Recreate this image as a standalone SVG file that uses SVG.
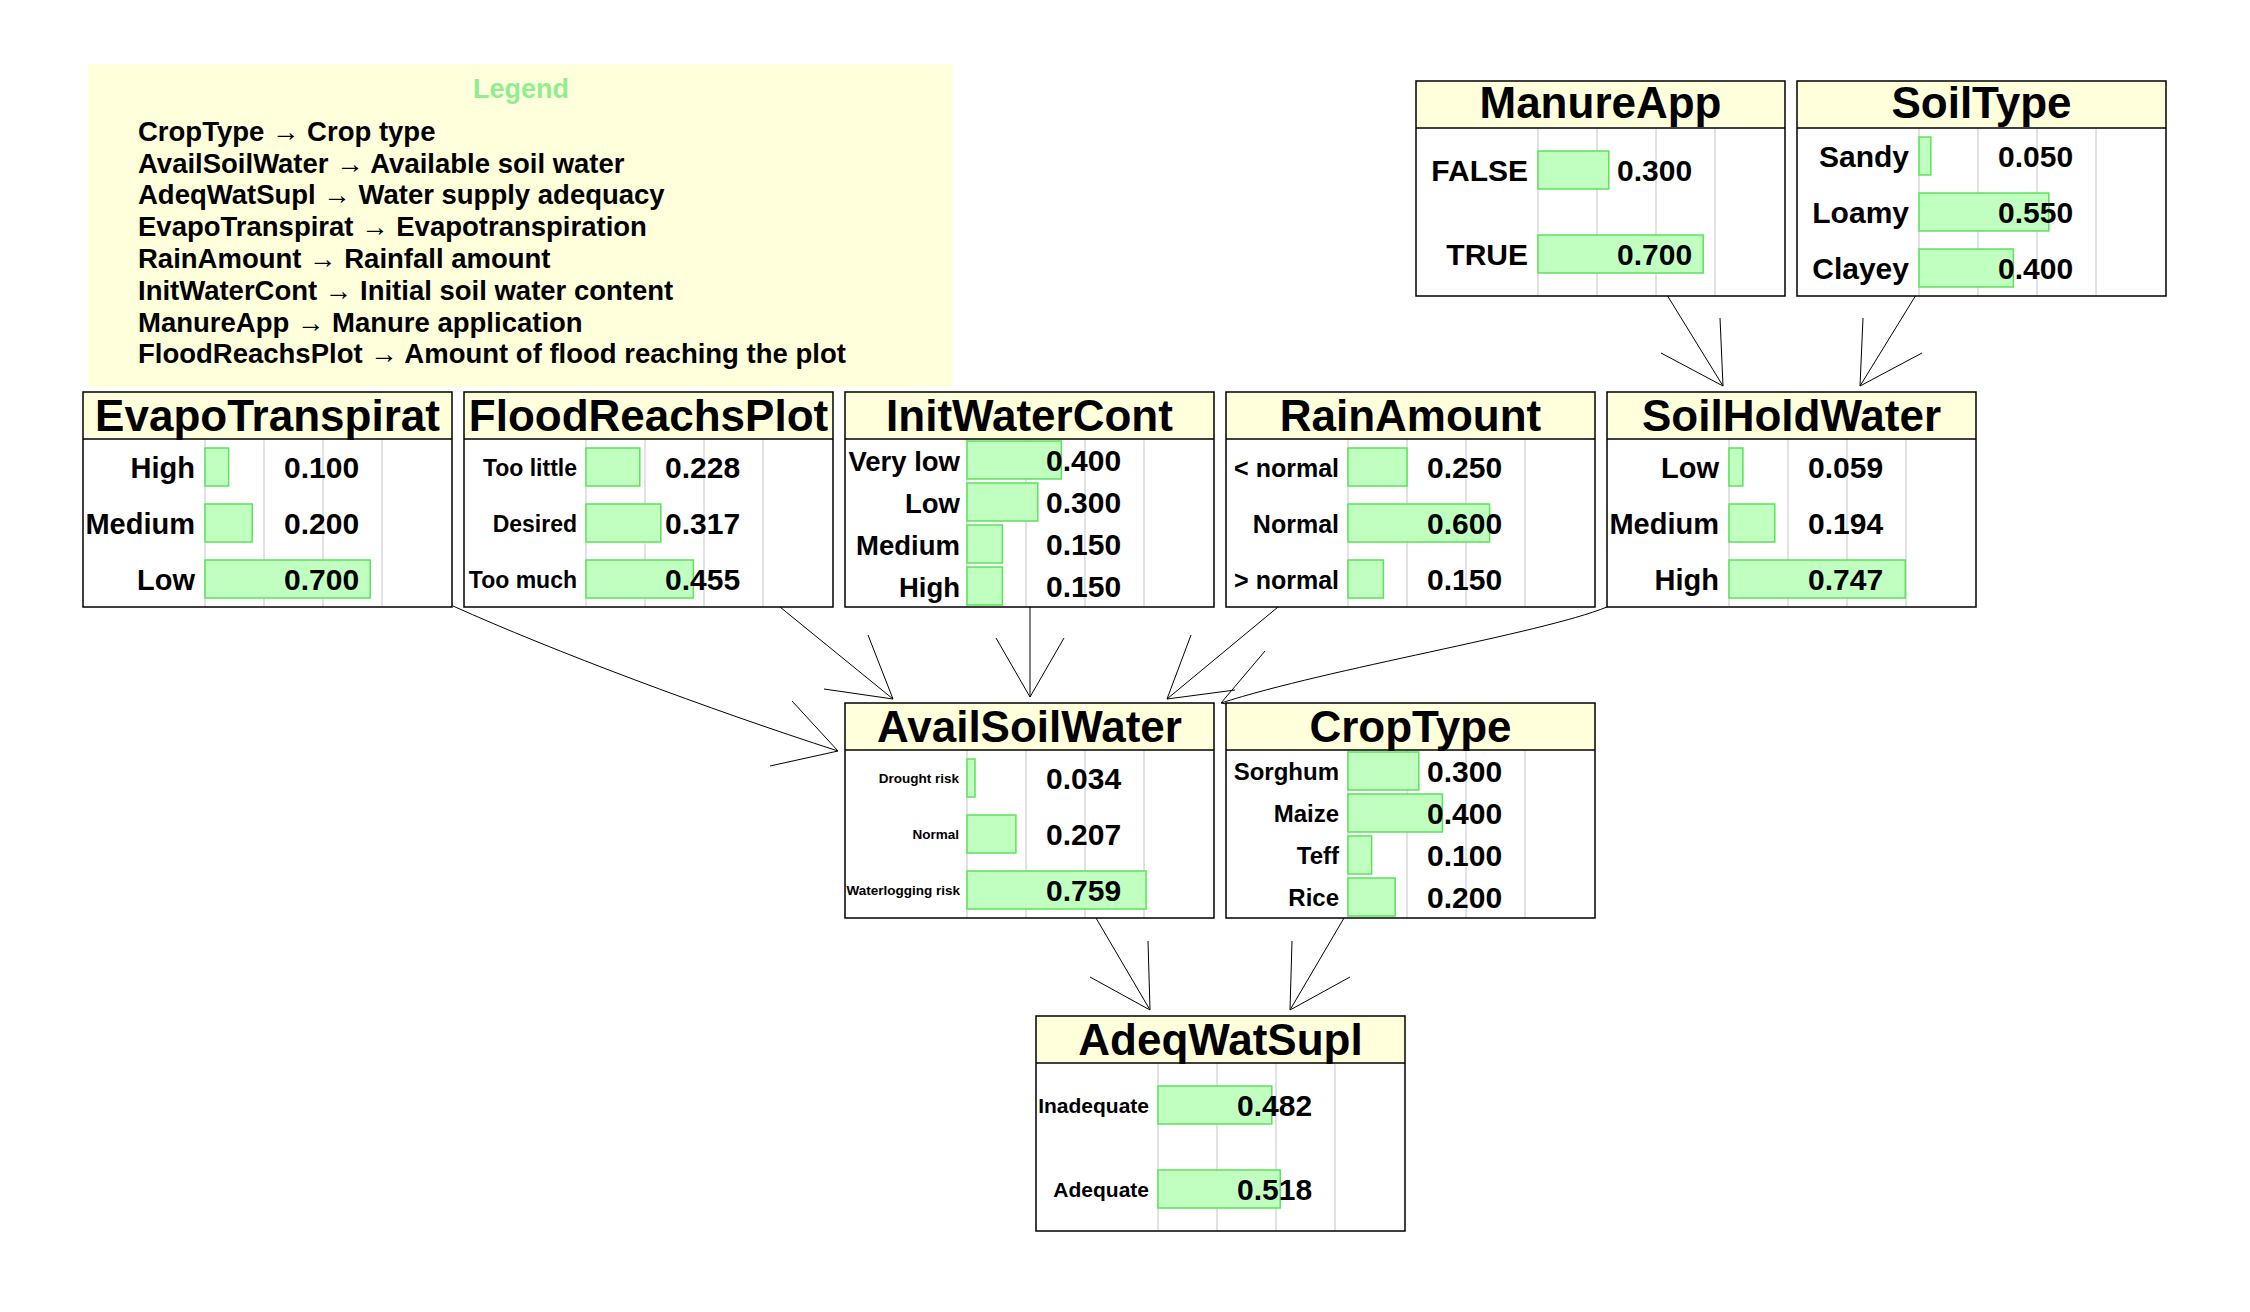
<svg xmlns="http://www.w3.org/2000/svg" width="2250" height="1312" viewBox="0 0 2250 1312">
<style>
text{font-family:"Liberation Sans",Arial,sans-serif;font-weight:bold;fill:#000}
.body{fill:#fff;stroke:none}
.head{fill:#FFFFDC;stroke:none}
.frame{fill:none;stroke:#000;stroke-width:1.5}
.sep{stroke:#000;stroke-width:1.5}
.grid{stroke:#C4C4C4;stroke-width:1;fill:none}
.bar{fill:#C0FFC0;stroke:#5BE35B;stroke-width:1.5}
.title{font-size:44px;text-anchor:middle}
.val{font-size:30px}
.lab{text-anchor:end}
.conn{fill:none;stroke:#000;stroke-width:1}
.leg{font-size:27.5px}
</style>
<rect width="2250" height="1312" fill="#fff"/>
<g id="legend">
<rect x="88" y="64" width="865" height="323" fill="#FFFFDC"/>
<text x="521" y="98" style="font-size:27px;fill:#90EE90;text-anchor:middle">Legend</text>
<text class="leg" x="138" y="140.7">CropType → Crop type</text>
<text class="leg" x="138" y="172.5">AvailSoilWater → Available soil water</text>
<text class="leg" x="138" y="204.3">AdeqWatSupl → Water supply adequacy</text>
<text class="leg" x="138" y="236.1">EvapoTranspirat → Evapotranspiration</text>
<text class="leg" x="138" y="267.9">RainAmount → Rainfall amount</text>
<text class="leg" x="138" y="299.7">InitWaterCont → Initial soil water content</text>
<text class="leg" x="138" y="331.5">ManureApp → Manure application</text>
<text class="leg" x="138" y="363.3">FloodReachsPlot → Amount of flood reaching the plot</text>
</g>
<g id="connectors">
<path class="conn" d="M1667,295L1723,386M1661,353L1723,386L1720,318"/>
<path class="conn" d="M1916,295L1860,386M1863,318L1860,386L1922,353"/>
<path class="conn" d="M453,606C553,651 708,709 838,751M792,701L838,751L770,766"/>
<path class="conn" d="M780,607L893,699M868,635L893,699L824,689"/>
<path class="conn" d="M1030,607L1030,697M996,638L1030,697L1064,638"/>
<path class="conn" d="M1278,607L1167,699M1191,635L1167,699L1235,690"/>
<path class="conn" d="M1607,607C1540,634 1330,668 1221,703M1265,651L1221,703L1288,715"/>
<path class="conn" d="M1096,918L1150,1010M1090,977L1150,1010L1148,941"/>
<path class="conn" d="M1344,918L1290,1010M1292,941L1290,1010L1350,977"/>
</g>
<g id="ManureApp" transform="translate(1416,81)">
<rect class="body" width="369" height="215"/><rect class="head" width="369" height="47"/>
<path class="grid" d="M122,47V215M181,47V215M240,47V215M299,47V215"/>
<rect class="bar" x="122" y="70" width="70.8" height="38"/>
<rect class="bar" x="122" y="154" width="165.2" height="38"/>
<text class="title" x="184.5" y="37">ManureApp</text>
<text class="lab" x="112" y="100.4" style="font-size:30px">FALSE</text>
<text class="lab" x="112" y="184.4" style="font-size:30px">TRUE</text>
<text class="val" x="201" y="100.4">0.300</text>
<text class="val" x="201" y="184.4">0.700</text>
<line class="sep" x1="0" y1="47" x2="369" y2="47"/><rect class="frame" width="369" height="215"/>
</g>
<g id="SoilType" transform="translate(1797,81)">
<rect class="body" width="369" height="215"/><rect class="head" width="369" height="47"/>
<path class="grid" d="M122,47V215M181,47V215M240,47V215M299,47V215"/>
<rect class="bar" x="122" y="56" width="11.8" height="38"/>
<rect class="bar" x="122" y="112" width="129.8" height="38"/>
<rect class="bar" x="122" y="168" width="94.4" height="38"/>
<text class="title" x="184.5" y="37">SoilType</text>
<text class="lab" x="112" y="86.4" style="font-size:30px">Sandy</text>
<text class="lab" x="112" y="142.4" style="font-size:30px">Loamy</text>
<text class="lab" x="112" y="198.4" style="font-size:30px">Clayey</text>
<text class="val" x="201" y="86.4">0.050</text>
<text class="val" x="201" y="142.4">0.550</text>
<text class="val" x="201" y="198.4">0.400</text>
<line class="sep" x1="0" y1="47" x2="369" y2="47"/><rect class="frame" width="369" height="215"/>
</g>
<g id="EvapoTranspirat" transform="translate(83,392)">
<rect class="body" width="369" height="215"/><rect class="head" width="369" height="47"/>
<path class="grid" d="M122,47V215M181,47V215M240,47V215M299,47V215"/>
<rect class="bar" x="122" y="56" width="23.6" height="38"/>
<rect class="bar" x="122" y="112" width="47.2" height="38"/>
<rect class="bar" x="122" y="168" width="165.2" height="38"/>
<text class="title" x="184.5" y="39">EvapoTranspirat</text>
<text class="lab" x="112" y="86" style="font-size:29px">High</text>
<text class="lab" x="112" y="142" style="font-size:29px">Medium</text>
<text class="lab" x="112" y="198" style="font-size:29px">Low</text>
<text class="val" x="201" y="86.4">0.100</text>
<text class="val" x="201" y="142.4">0.200</text>
<text class="val" x="201" y="198.4">0.700</text>
<line class="sep" x1="0" y1="47" x2="369" y2="47"/><rect class="frame" width="369" height="215"/>
</g>
<g id="FloodReachsPlot" transform="translate(464,392)">
<rect class="body" width="369" height="215"/><rect class="head" width="369" height="47"/>
<path class="grid" d="M122,47V215M181,47V215M240,47V215M299,47V215"/>
<rect class="bar" x="122" y="56" width="53.8" height="38"/>
<rect class="bar" x="122" y="112" width="74.8" height="38"/>
<rect class="bar" x="122" y="168" width="107.4" height="38"/>
<text class="title" x="184.5" y="39">FloodReachsPlot</text>
<text class="lab" x="113" y="83.7" style="font-size:23px">Too little</text>
<text class="lab" x="113" y="139.7" style="font-size:23px">Desired</text>
<text class="lab" x="113" y="195.7" style="font-size:23px">Too much</text>
<text class="val" x="201" y="86.4">0.228</text>
<text class="val" x="201" y="142.4">0.317</text>
<text class="val" x="201" y="198.4">0.455</text>
<line class="sep" x1="0" y1="47" x2="369" y2="47"/><rect class="frame" width="369" height="215"/>
</g>
<g id="InitWaterCont" transform="translate(845,392)">
<rect class="body" width="369" height="215"/><rect class="head" width="369" height="47"/>
<path class="grid" d="M122,47V215M181,47V215M240,47V215M299,47V215"/>
<rect class="bar" x="122" y="49" width="94.4" height="38"/>
<rect class="bar" x="122" y="91" width="70.8" height="38"/>
<rect class="bar" x="122" y="133" width="35.4" height="38"/>
<rect class="bar" x="122" y="175" width="35.4" height="38"/>
<text class="title" x="184.5" y="39">InitWaterCont</text>
<text class="lab" x="115" y="78.5" style="font-size:27.5px">Very low</text>
<text class="lab" x="115" y="120.5" style="font-size:27.5px">Low</text>
<text class="lab" x="115" y="162.5" style="font-size:27.5px">Medium</text>
<text class="lab" x="115" y="204.5" style="font-size:27.5px">High</text>
<text class="val" x="201" y="79.4">0.400</text>
<text class="val" x="201" y="121.4">0.300</text>
<text class="val" x="201" y="163.4">0.150</text>
<text class="val" x="201" y="205.4">0.150</text>
<line class="sep" x1="0" y1="47" x2="369" y2="47"/><rect class="frame" width="369" height="215"/>
</g>
<g id="RainAmount" transform="translate(1226,392)">
<rect class="body" width="369" height="215"/><rect class="head" width="369" height="47"/>
<path class="grid" d="M122,47V215M181,47V215M240,47V215M299,47V215"/>
<rect class="bar" x="122" y="56" width="59" height="38"/>
<rect class="bar" x="122" y="112" width="141.6" height="38"/>
<rect class="bar" x="122" y="168" width="35.4" height="38"/>
<text class="title" x="184.5" y="39">RainAmount</text>
<text class="lab" x="113" y="84.5" style="font-size:25px">&lt; normal</text>
<text class="lab" x="113" y="140.5" style="font-size:25px">Normal</text>
<text class="lab" x="113" y="196.5" style="font-size:25px">&gt; normal</text>
<text class="val" x="201" y="86.4">0.250</text>
<text class="val" x="201" y="142.4">0.600</text>
<text class="val" x="201" y="198.4">0.150</text>
<line class="sep" x1="0" y1="47" x2="369" y2="47"/><rect class="frame" width="369" height="215"/>
</g>
<g id="SoilHoldWater" transform="translate(1607,392)">
<rect class="body" width="369" height="215"/><rect class="head" width="369" height="47"/>
<path class="grid" d="M122,47V215M181,47V215M240,47V215M299,47V215"/>
<rect class="bar" x="122" y="56" width="13.9" height="38"/>
<rect class="bar" x="122" y="112" width="45.8" height="38"/>
<rect class="bar" x="122" y="168" width="176.3" height="38"/>
<text class="title" x="184.5" y="39">SoilHoldWater</text>
<text class="lab" x="112" y="86" style="font-size:29px">Low</text>
<text class="lab" x="112" y="142" style="font-size:29px">Medium</text>
<text class="lab" x="112" y="198" style="font-size:29px">High</text>
<text class="val" x="201" y="86.4">0.059</text>
<text class="val" x="201" y="142.4">0.194</text>
<text class="val" x="201" y="198.4">0.747</text>
<line class="sep" x1="0" y1="47" x2="369" y2="47"/><rect class="frame" width="369" height="215"/>
</g>
<g id="AvailSoilWater" transform="translate(845,703)">
<rect class="body" width="369" height="215"/><rect class="head" width="369" height="47"/>
<path class="grid" d="M122,47V215M181,47V215M240,47V215M299,47V215"/>
<rect class="bar" x="122" y="56" width="8" height="38"/>
<rect class="bar" x="122" y="112" width="48.9" height="38"/>
<rect class="bar" x="122" y="168" width="179.1" height="38"/>
<text class="title" x="184.5" y="39">AvailSoilWater</text>
<text class="lab" x="114" y="80" style="font-size:13.5px">Drought risk</text>
<text class="lab" x="114" y="136" style="font-size:13.5px">Normal</text>
<text class="lab" x="115" y="192" style="font-size:13.5px">Waterlogging risk</text>
<text class="val" x="201" y="86.4">0.034</text>
<text class="val" x="201" y="142.4">0.207</text>
<text class="val" x="201" y="198.4">0.759</text>
<line class="sep" x1="0" y1="47" x2="369" y2="47"/><rect class="frame" width="369" height="215"/>
</g>
<g id="CropType" transform="translate(1226,703)">
<rect class="body" width="369" height="215"/><rect class="head" width="369" height="47"/>
<path class="grid" d="M122,47V215M181,47V215M240,47V215M299,47V215"/>
<rect class="bar" x="122" y="49" width="70.8" height="38"/>
<rect class="bar" x="122" y="91" width="94.4" height="38"/>
<rect class="bar" x="122" y="133" width="23.6" height="38"/>
<rect class="bar" x="122" y="175" width="47.2" height="38"/>
<text class="title" x="184.5" y="39">CropType</text>
<text class="lab" x="113" y="76.6" style="font-size:24px">Sorghum</text>
<text class="lab" x="113" y="118.6" style="font-size:24px">Maize</text>
<text class="lab" x="113" y="160.6" style="font-size:24px">Teff</text>
<text class="lab" x="113" y="202.6" style="font-size:24px">Rice</text>
<text class="val" x="201" y="79.4">0.300</text>
<text class="val" x="201" y="121.4">0.400</text>
<text class="val" x="201" y="163.4">0.100</text>
<text class="val" x="201" y="205.4">0.200</text>
<line class="sep" x1="0" y1="47" x2="369" y2="47"/><rect class="frame" width="369" height="215"/>
</g>
<g id="AdeqWatSupl" transform="translate(1036,1016)">
<rect class="body" width="369" height="215"/><rect class="head" width="369" height="47"/>
<path class="grid" d="M122,47V215M181,47V215M240,47V215M299,47V215"/>
<rect class="bar" x="122" y="70" width="113.8" height="38"/>
<rect class="bar" x="122" y="154" width="122.2" height="38"/>
<text class="title" x="184.5" y="39">AdeqWatSupl</text>
<text class="lab" x="113" y="96.6" style="font-size:21px">Inadequate</text>
<text class="lab" x="113" y="180.6" style="font-size:21px">Adequate</text>
<text class="val" x="201" y="100.4">0.482</text>
<text class="val" x="201" y="184.4">0.518</text>
<line class="sep" x1="0" y1="47" x2="369" y2="47"/><rect class="frame" width="369" height="215"/>
</g>
</svg>
